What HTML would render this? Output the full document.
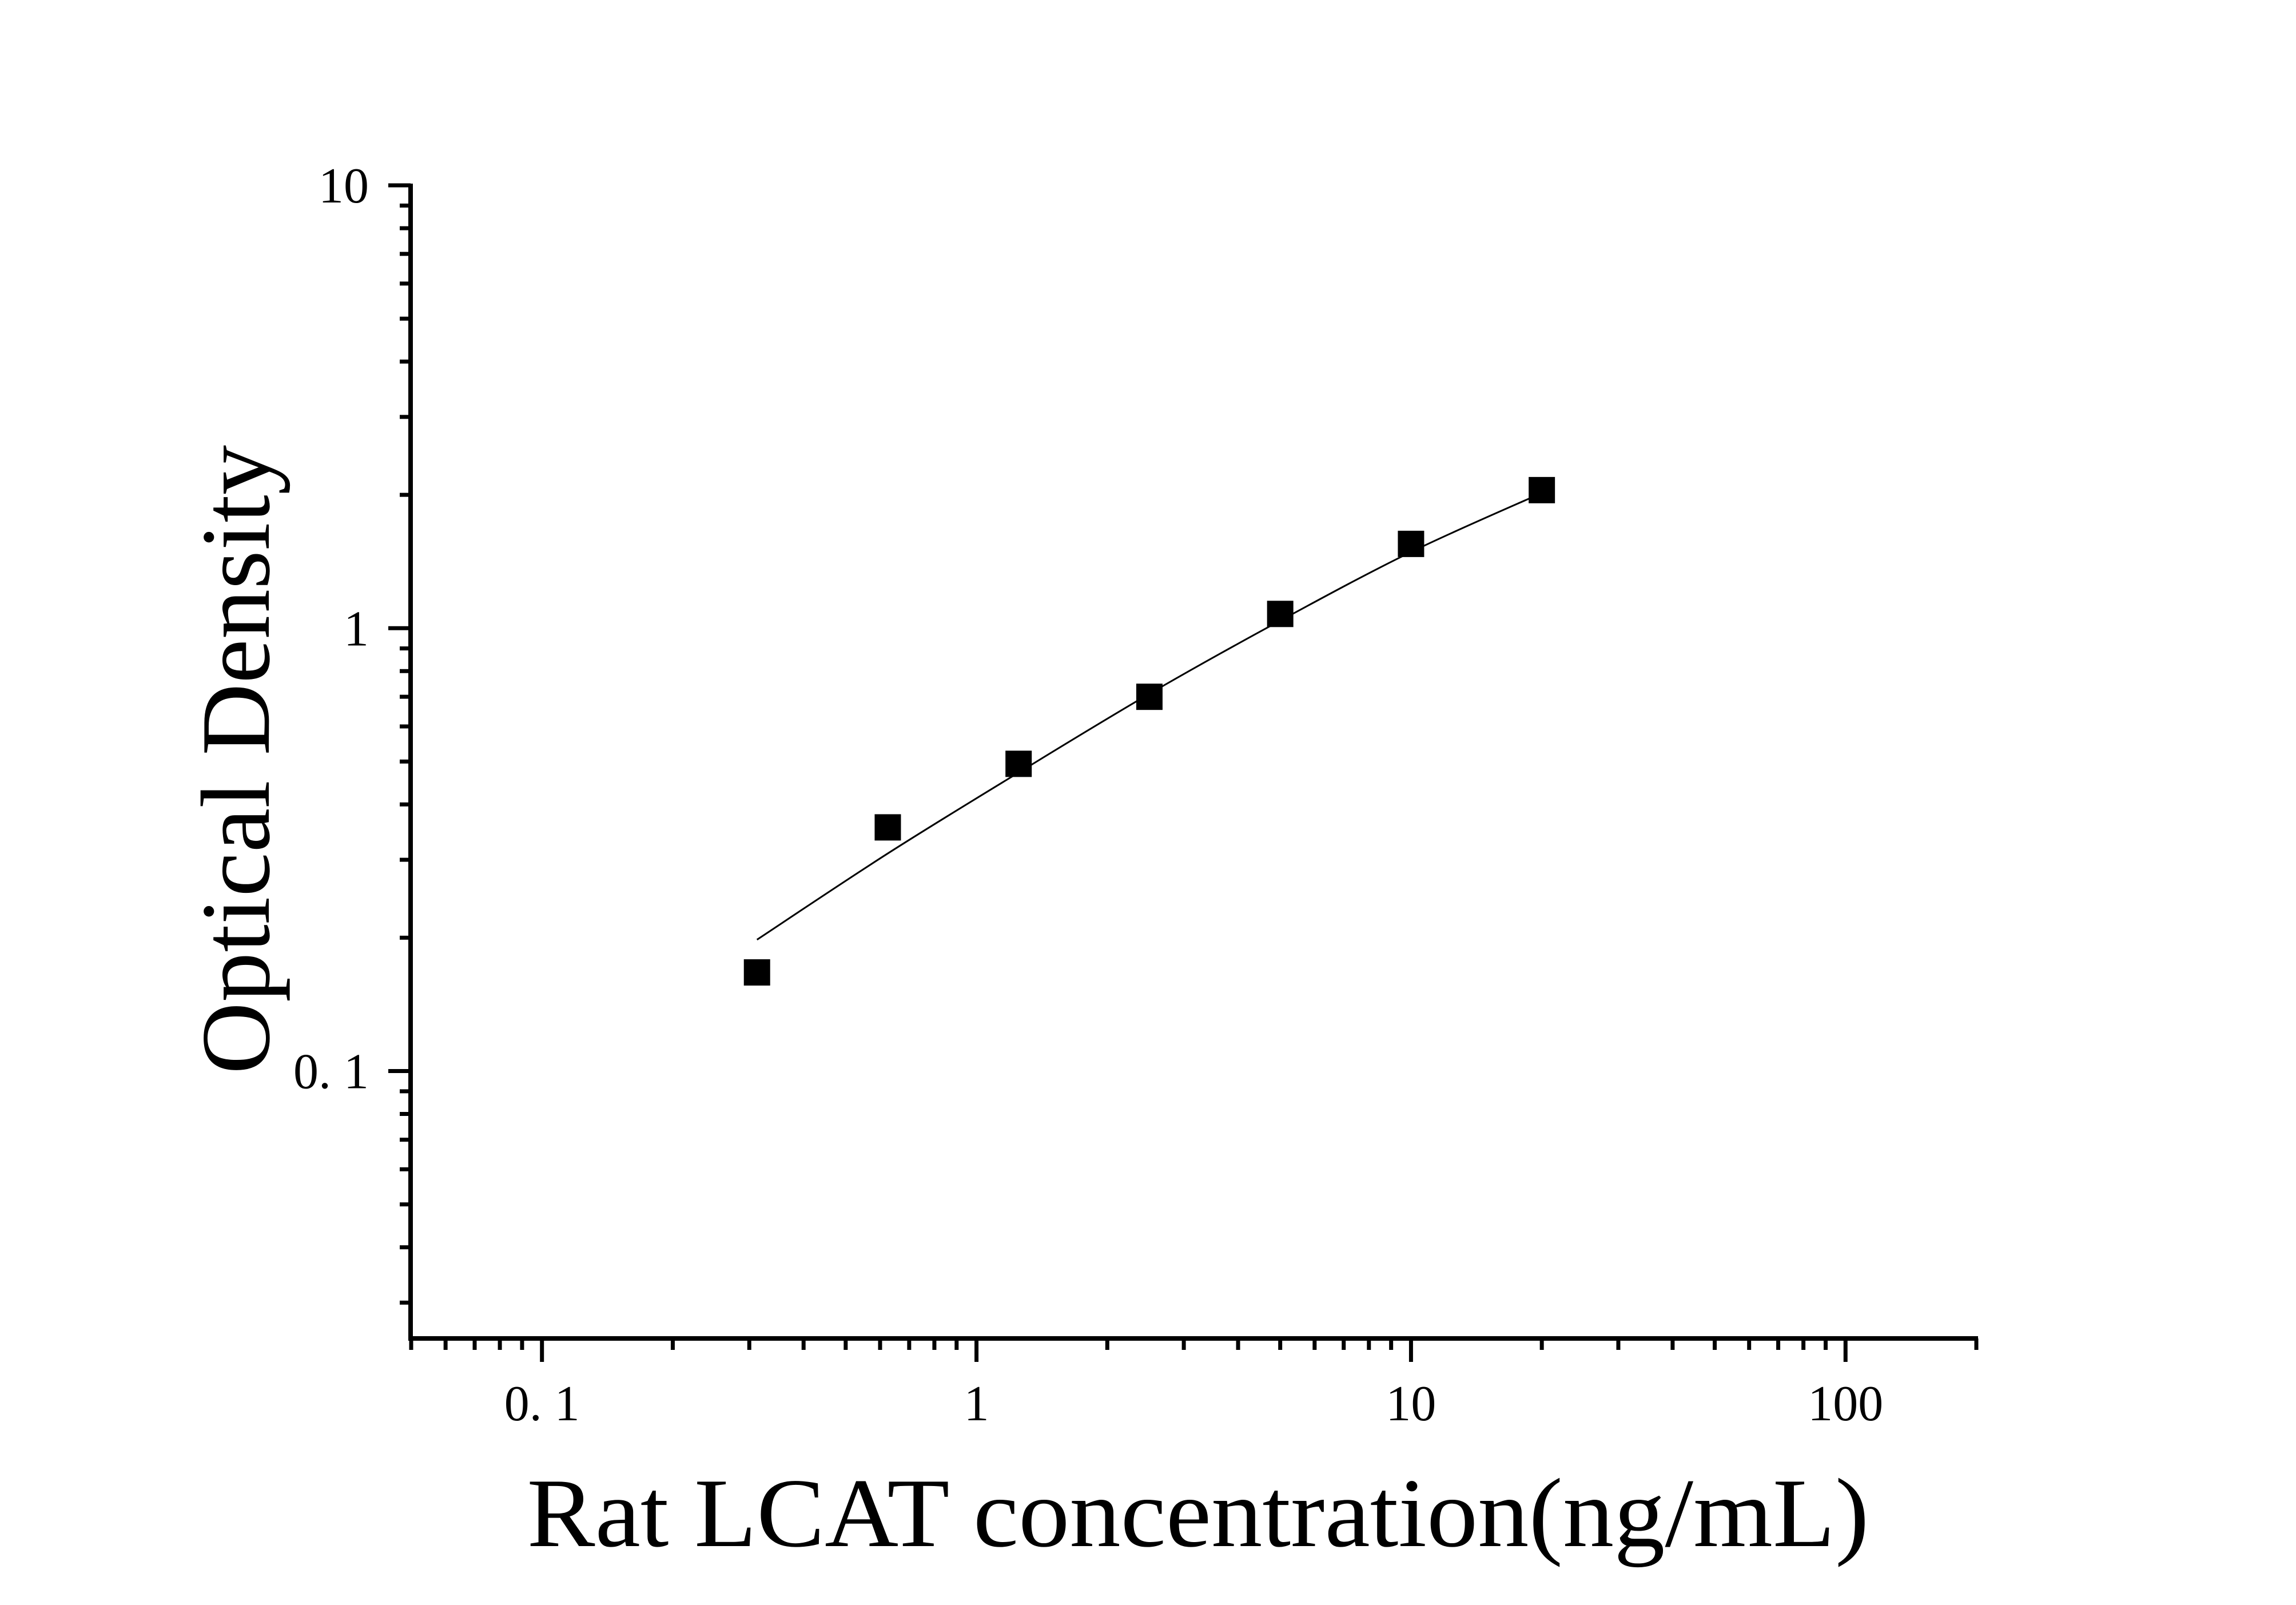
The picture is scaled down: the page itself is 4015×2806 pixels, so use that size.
<!DOCTYPE html>
<html><head><meta charset="utf-8"><style>
html,body{margin:0;padding:0;background:#fff;}
svg{display:block;}
text{font-family:"Liberation Serif",serif;fill:#000;}
</style></head><body>
<svg id="chart" width="4015" height="2806" viewBox="0 0 4015 2806" xmlns="http://www.w3.org/2000/svg">
<rect width="4015" height="2806" fill="#fff"/>
<g id="axes"></g>
<g id="curve"></g>
<g id="points"></g>
<text x="0" y="0" font-size="172" text-anchor="middle" transform="translate(470,1328) rotate(-90)" textLength="1100" lengthAdjust="spacingAndGlyphs">Optical Density</text>
<text x="2095" y="2703" font-size="172" text-anchor="middle" textLength="2347" lengthAdjust="spacingAndGlyphs">Rat LCAT concentration(ng/mL)</text>
</svg>
<script>
const concentrations = [0.3125, 0.625, 1.25, 2.5, 5, 10, 20];
const odValues = [0.167, 0.355, 0.494, 0.70, 1.077, 1.55, 2.05];
const fitValues = [0.198, 0.31, 0.472, 0.711, 1.04, 1.486, 2.02];
const xTickValues = [0.1, 1, 10, 100];
const xTickLabels = ["0. 1", "1", "10", "100"];
const yTickValues = [0.1, 1, 10];
const yTickLabels = ["0. 1", "1", "10"];

const NS = "http://www.w3.org/2000/svg";
const X0 = 719, X1 = 3456, xMin = 0.05, xMax = 200;
const Y0 = 2340, Y1 = 324, yMin = 0.0249, yMax = 10;
function xs(v){ return X0 + (Math.log10(v)-Math.log10(xMin))/(Math.log10(xMax)-Math.log10(xMin))*(X1-X0); }
function ys(v){ return Y0 - (Math.log10(v)-Math.log10(yMin))/(Math.log10(yMax)-Math.log10(yMin))*(Y0-Y1); }
function mk(tag, attrs, parent){ const e=document.createElementNS(NS,tag); for(const k in attrs) e.setAttribute(k,attrs[k]); parent.appendChild(e); return e; }

const axes = document.getElementById('axes');
for(let d=-2; d<=2; d++){
  for(let m=1; m<=9; m++){
    const v = m*Math.pow(10,d);
    if(v < xMin-1e-9 || v > xMax+1e-9) continue;
    const major = (m===1);
    const x = xs(v);
    const t = mk('line',{x1:x,y1:Y0,x2:x,y2:major?2381:2360,stroke:'#000','stroke-width':7},axes);
    
    
  }
}
for(let d=-2; d<=1; d++){
  for(let m=1; m<=9; m++){
    const v = m*Math.pow(10,d);
    if(v < yMin-1e-9 || v > yMax+1e-9) continue;
    const major = (m===1);
    const y = ys(v);
    const t = mk('line',{x1:major?679:699,y1:y,x2:718,y2:y,stroke:'#000','stroke-width':7},axes);
    
    
  }
}
const yl = mk('line',{x1:718,y1:Y1-3,x2:718,y2:Y0+4,stroke:'#000','stroke-width':8},axes);


const xl = mk('line',{x1:714,y1:Y0,x2:X1+3,y2:Y0,stroke:'#000','stroke-width':8},axes);



xTickValues.forEach((v,i)=>{
  const t = mk('text',{x:xs(v),y:2483,'font-size':88,'text-anchor':'middle'},axes);
  t.textContent = xTickLabels[i];
  
  
});
yTickValues.forEach((v,i)=>{
  const t = mk('text',{x:645,y:ys(v)+30,'font-size':88,'text-anchor':'end'},axes);
  t.textContent = yTickLabels[i];
  
  
});

const pts = concentrations.map((c,i)=>[xs(c), ys(fitValues[i])]);
let d = 'M'+pts[0][0]+','+pts[0][1];
for(let i=0;i<pts.length-1;i++){
  const p0 = pts[Math.max(0,i-1)], p1=pts[i], p2=pts[i+1], p3=pts[Math.min(pts.length-1,i+2)];
  const c1x=p1[0]+(p2[0]-p0[0])/6, c1y=p1[1]+(p2[1]-p0[1])/6;
  const c2x=p2[0]-(p3[0]-p1[0])/6, c2y=p2[1]-(p3[1]-p1[1])/6;
  d += ' C'+c1x+','+c1y+' '+c2x+','+c2y+' '+p2[0]+','+p2[1];
}
const cv = mk('path',{d:d,fill:'none',stroke:'#000','stroke-width':3},document.getElementById('curve'));



const pg = document.getElementById('points');
concentrations.forEach((c,i)=>{
  const r = mk('rect',{x:xs(c)-23,y:ys(odValues[i])-23,width:46,height:46,fill:'#000'},pg);
  
  
});
</script>
</body></html>
